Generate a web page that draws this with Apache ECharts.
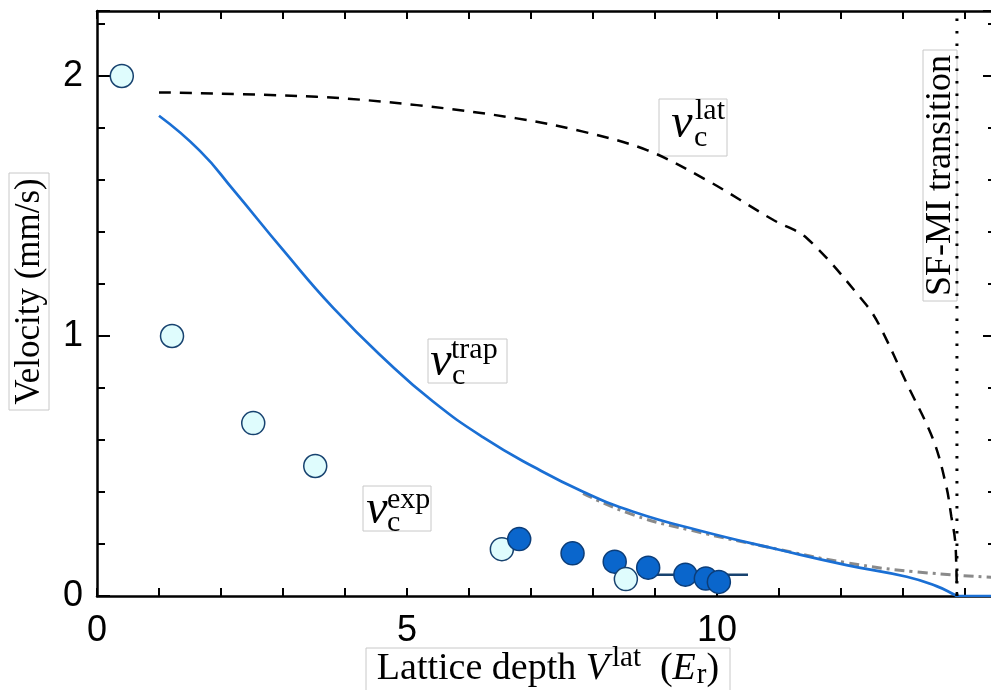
<!DOCTYPE html>
<html><head><meta charset="utf-8">
<script src="https://cdn.jsdelivr.net/npm/echarts@6/dist/echarts.min.js"></script>
<style>html,body{margin:0;padding:0;background:#fff}#c{width:991px;height:690px}</style>
</head><body><div id="c"></div>
<script>
// ---- data ----
const xTickLabels = [0, 5, 10];
const yTickLabels = [0, 1, 2];
const expLightX = [0.40, 1.21, 2.52, 3.52, 6.53, 8.53];
const expLightY = [2.00, 1.00, 0.665, 0.50, 0.18, 0.065];
const expDarkX = [6.81, 7.67, 8.35, 8.89, 9.49, 9.82, 10.03];
const expDarkY = [0.219, 0.164, 0.132, 0.109, 0.082, 0.067, 0.054];
const fitX = [8.92, 10.5];
const fitY = [0.082, 0.082];
const trapX = [1.0, 1.66, 2.2, 3.0, 3.81, 4.67, 5.42, 6.23, 7.04, 7.84, 8.65, 9.73, 11.02, 12.09, 13.06, 13.54, 13.84, 13.87, 14.5];
const trapY = [1.847, 1.712, 1.562, 1.331, 1.108, 0.904, 0.748, 0.61, 0.497, 0.401, 0.324, 0.251, 0.177, 0.119, 0.074, 0.038, 0.004, 0, 0];
const latX = [1.0, 3.54, 5.16, 6.77, 7.84, 8.87, 9.83, 10.91, 11.45, 12.41, 12.63, 13.06, 13.49, 13.7, 13.78, 13.84, 13.86, 13.87];
const latY = [1.937, 1.92, 1.888, 1.837, 1.786, 1.715, 1.60, 1.446, 1.376, 1.119, 1.036, 0.818, 0.60, 0.42, 0.305, 0.215, 0.113, 0];
const asymX = [7.84, 8.65, 9.56, 11.02, 12.09, 13.17, 14.5];
const asymY = [0.395, 0.312, 0.254, 0.178, 0.128, 0.094, 0.071];
const transitionX = [13.87, 13.87];
const transitionY = [0, 2.25];

const SERIF = '"Liberation Serif", "Times New Roman", serif';
const SANS = '"Liberation Sans", Arial, sans-serif';

const zip = (xs, ys) => xs.map((x, i) => [x, ys[i]]);

// merge experimental points sorted by x (later points drawn on top)
const expPoints = zip(expLightX, expLightY).map(p => ({p, k: 'light'}))
  .concat(zip(expDarkX, expDarkY).map(p => ({p, k: 'dark'})))
  .sort((a, b) => a.p[0] - b.p[0]);
const pointStyle = {
  light: {color: '#dffcfd', borderColor: '#17426f', borderWidth: 1.5, opacity: 1},
  dark: {color: '#0a66cc', borderColor: '#0c3d78', borderWidth: 1.5, opacity: 1}
};

const chart = echarts.init(document.getElementById('c'), null, {renderer: 'canvas'});

const tickLine = {color: '#000', width: 2};
function xAx(pos, labels) {
  return {
    type: 'value', position: pos, min: 0, max: 14.5, interval: 1,
    axisLine: {show: true, onZero: false, lineStyle: {color: '#000', width: 2.5}},
    axisTick: {show: true, inside: true, length: 8, lineStyle: tickLine},
    axisLabel: {show: labels, margin: 17, color: '#000', fontSize: 36, fontFamily: SANS,
      formatter: v => xTickLabels.includes(v) ? String(v) : ''},
    splitLine: {show: false}
  };
}
function yAx(pos, interval, len, line, labels) {
  return {
    type: 'value', position: pos, min: 0, max: 2.25, interval: interval, offset: 0,
    axisLine: {show: line, onZero: false, lineStyle: {color: '#000', width: 2.5}},
    axisTick: {show: true, inside: true, length: len, lineStyle: tickLine},
    axisLabel: {show: labels, margin: 14, color: '#000', fontSize: 36, fontFamily: SANS,
      formatter: v => yTickLabels.includes(v) ? String(v) : ''},
    splitLine: {show: false}
  };
}

function boxedRot(cx, cy, w, h, text, font) {
  return {
    type: 'group', x: cx, y: cy, rotation: Math.PI / 2, z: 50,
    children: [
      {type: 'rect', shape: {x: -w / 2, y: -h / 2, width: w, height: h},
        style: {fill: 'rgba(0,0,0,0)', stroke: '#c8c8c8', lineWidth: 1}},
      {type: 'text', x: 0, y: 1, style: {text: text, font: font, fill: '#000',
        align: 'center', verticalAlign: 'middle', textAlign: 'center', textVerticalAlign: 'middle'}}
    ]
  };
}
function mathLabel(rx, ry, rw, rh, vx, vy, supText, supX, supY, subX, subY) {
  const t = (x, y, s, font, al) => ({type: 'text', x: x, y: y,
    style: {text: s, font: font, fill: '#000', align: al, verticalAlign: 'middle', textAlign: al, textVerticalAlign: 'middle'}});
  return {
    type: 'group', z: 50,
    children: [
      {type: 'rect', shape: {x: rx, y: ry, width: rw, height: rh},
        style: {fill: 'rgba(0,0,0,0)', stroke: '#c8c8c8', lineWidth: 1}},
      t(vx, vy, 'v', 'italic 48px ' + SERIF, 'center'),
      t(supX, supY, supText, '30px ' + SERIF, 'left'),
      t(subX, subY, 'c', '30px ' + SERIF, 'left')
    ]
  };
}

const option = {
  animation: false,
  backgroundColor: '#fff',
  grid: {left: 97, right: -5, top: 11, bottom: 94, containLabel: false, outerBoundsMode: 'none'},
  xAxis: [xAx('bottom', true), xAx('top', false)],
  yAxis: [
    yAx('left', 1, 13, true, true),
    yAx('left', 0.2, 8, false, false),
    yAx('right', 1, 13, true, false),
    yAx('right', 0.2, 8, false, false)
  ],
  series: [
    {type: 'line', name: 'asym', data: zip(asymX, asymY), smooth: 0.5, symbol: 'none', z: 2,
      lineStyle: {color: '#8a8a8a', width: 3, type: [10, 5, 3, 5]}},
    {type: 'line', name: 'trap', data: zip(trapX, trapY), smooth: 0.5, symbol: 'none', z: 3,
      lineStyle: {color: '#1a6fd4', width: 2.7}},
    {type: 'line', name: 'lat', data: zip(latX, latY), smooth: 0.35, symbol: 'none', z: 3,
      lineStyle: {color: '#000', width: 2.5, type: [12, 9]}},
    {type: 'line', name: 'transition', data: zip(transitionX, transitionY), symbol: 'none', z: 3,
      lineStyle: {color: '#000', width: 3, type: [2.5, 10]}},
    {type: 'line', name: 'fit', data: zip(fitX, fitY), symbol: 'none', z: 4,
      lineStyle: {color: '#17426f', width: 2.5}},
    {type: 'scatter', name: 'exp', symbol: 'circle', symbolSize: 23, z: 5,
      itemStyle: {opacity: 1},
      data: expPoints.map(o => ({value: o.p, itemStyle: pointStyle[o.k]}))}
  ],
  graphic: [
    boxedRot(29, 291.5, 237, 40, 'Velocity (mm/s)', '35px ' + SERIF),
    boxedRot(940, 175.5, 251, 34, 'SF-MI transition', '36px ' + SERIF),
    mathLabel(659, 99, 68, 57, 682, 124, 'lat', 695, 111, 694, 138),
    mathLabel(428, 339, 79, 44, 441, 362, 'trap', 451, 350, 452, 376),
    mathLabel(363, 486, 68, 45, 377, 510, 'exp', 387, 500, 387, 523),
    {type: 'group', z: 50, children: [
      {type: 'rect', shape: {x: 366, y: 648, width: 364, height: 45},
        style: {fill: 'rgba(0,0,0,0)', stroke: '#c8c8c8', lineWidth: 1}},
      {type: 'text', x: 548, y: 669, style: {
        text: '{n|Lattice depth }{i|V}{sup|lat}{n|  (}{i|E}{sub|r}{n|)}',
        align: 'center', verticalAlign: 'middle', textAlign: 'center', textVerticalAlign: 'middle',
        rich: {
          n: {fontFamily: SERIF, fontSize: 38, color: '#000'},
          i: {fontFamily: SERIF, fontSize: 38, fontStyle: 'italic', color: '#000'},
          sup: {fontFamily: SERIF, fontSize: 29, color: '#000', padding: [0, 0, 22, 3]},
          sub: {fontFamily: SERIF, fontSize: 29, color: '#000', padding: [12, 0, 0, 1]}
        }
      }}
    ]}
  ]
};
chart.setOption(option);
</script>
</body></html>
